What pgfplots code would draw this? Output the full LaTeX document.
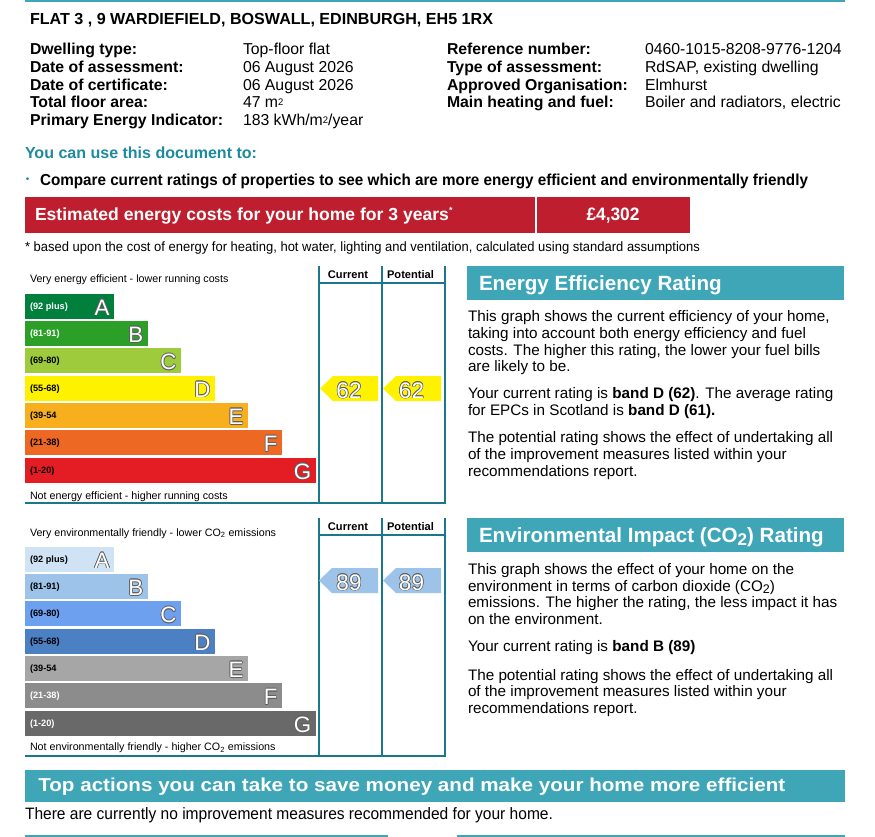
\documentclass[border=0pt]{standalone}
\usepackage{pgfplots}
\pgfplotsset{compat=1.18}
\usepackage{fontspec}
\setmainfont{Liberation Sans}
\usepackage{graphicx}
\definecolor{tealL}{RGB}{63,166,184}
\definecolor{tealD}{RGB}{25,120,140}
\definecolor{tealT}{RGB}{30,138,158}
\definecolor{redbar}{RGB}{190,30,45}
\definecolor{eA}{RGB}{0,127,61}
\definecolor{eB}{RGB}{44,159,41}
\definecolor{eC}{RGB}{157,203,60}
\definecolor{eD}{RGB}{255,242,0}
\definecolor{eE}{RGB}{247,175,29}
\definecolor{eF}{RGB}{237,104,35}
\definecolor{eG}{RGB}{227,29,35}
\definecolor{cA}{RGB}{207,227,245}
\definecolor{cB}{RGB}{157,195,232}
\definecolor{cC}{RGB}{110,160,240}
\definecolor{cD}{RGB}{75,128,195}
\definecolor{cE}{RGB}{166,166,166}
\definecolor{cF}{RGB}{140,140,140}
\definecolor{cG}{RGB}{105,105,105}
\definecolor{olc}{RGB}{95,95,95}
\newcommand\fs[1]{\fontsize{#1}{#1}\selectfont}
\newcommand\fitto[2]{\resizebox{#1pt}{\height}{#2}}
\newcommand\olt[3]{\foreach \dx/\dy in {0.7/0,-0.7/0,0/0.7,0/-0.7,0.5/0.5,-0.5/0.5,0.5/-0.5,-0.5/-0.5}{\node[#1,text=olc,xshift=\dx pt,yshift=\dy pt] at (#2) {#3};}\node[#1,text=white] at (#2) {#3};}
\pgfplotsset{bandaxis/.style={anchor=north west, x=1pt, y=1pt, y dir=reverse, xmin=0, xmax=420, ymin=0, ymax=238, hide axis, clip=false},
  band/.style={xbar, bar shift=0pt, bar width=25, draw=none, fill=#1}}
\begin{document}
\begin{tikzpicture}[x=1pt,y=-1pt,every node/.style={inner sep=0pt,outer sep=0pt}]
\fill[white] (0,0) rectangle (875,837);
% top rule
\fill[tealL] (25,0) rectangle (845,2.5);
\node[anchor=base west,font=\fs{16pt}\bfseries] at (30,24.5) {\fitto{463}{FLAT 3 , 9 WARDIEFIELD, BOSWALL, EDINBURGH, EH5 1RX}};
% details
\begin{scope}[every node/.append style={anchor=base west}]
\node[font=\fs{15.8pt}\bfseries] at (30,55) {Dwelling type:};
\node[font=\fs{15.8pt}\bfseries] at (30,73) {Date of assessment:};
\node[font=\fs{15.8pt}\bfseries] at (30,90.5) {Date of certificate:};
\node[font=\fs{15.8pt}\bfseries] at (30,108) {Total floor area:};
\node[font=\fs{15.8pt}\bfseries] at (30,126) {Primary Energy Indicator:};
\node[font=\fs{15.8pt}] at (243,55) {Top-floor flat};
\node[font=\fs{15.8pt}] at (243,73) {06 August 2026};
\node[font=\fs{15.8pt}] at (243,90.5) {06 August 2026};
\node[font=\fs{15.8pt}] at (243,108) {47 m\raisebox{0.25ex}{\fs{9.5pt}2}};
\node[font=\fs{15.8pt}] at (243,126) {183 kWh/m\raisebox{0.25ex}{\fs{9.5pt}2}/year};
\node[font=\fs{15.8pt}\bfseries] at (447,55) {Reference number:};
\node[font=\fs{15.8pt}\bfseries] at (447,73) {Type of assessment:};
\node[font=\fs{15.8pt}\bfseries] at (447,90.5) {Approved Organisation:};
\node[font=\fs{15.8pt}\bfseries] at (447,108) {Main heating and fuel:};
\node[font=\fs{15.8pt}] at (645,55) {0460-1015-8208-9776-1204};
\node[font=\fs{15.8pt}] at (645,73) {RdSAP, existing dwelling};
\node[font=\fs{15.8pt}] at (645,90.5) {Elmhurst};
\node[font=\fs{15.8pt}] at (645,108) {Boiler and radiators, electric};
% use
\node[font=\fs{16pt}\bfseries,text=tealT] at (25,159) {\fitto{232}{You can use this document to:}};
\node[font=\fs{15.9pt}\bfseries] at (40,185.7) {\fitto{768}{Compare current ratings of properties to see which are more energy efficient and environmentally friendly}};
\end{scope}
\node[font=\fs{10pt},anchor=center,text=tealT] at (27.5,180) {\textbullet};
% red bar
\fill[redbar] (25,197.3) rectangle (690,233.3);
\draw[white,line width=1.2pt] (536,197.3) -- (536,233.3);
\node[anchor=base west,font=\fs{17.5pt}\bfseries,text=white] at (35,220.7) {\fitto{414}{Estimated energy costs for your home for 3 years}\raisebox{7pt}{\fs{9pt}*}};
\node[anchor=base,font=\fs{18pt}\bfseries,text=white] at (613,220.7) {\fitto{53}{£4,302}};
\node[anchor=base west,font=\fs{13.5pt}] at (25,251) {\fitto{675}{* based upon the cost of energy for heating, hot water, lighting and ventilation, calculated using standard assumptions}};
% ---------- energy chart frame ----------
\draw[tealD,line width=2pt] (319,266) -- (319,503) (382,266) -- (382,503) (445,266) -- (445,503) (318,283) -- (446,283) (25,503) -- (446,503);
\node[anchor=base,font=\fs{11.1pt}\bfseries] at (348,278.3) {Current};
\node[anchor=base,font=\fs{11.1pt}\bfseries] at (410.5,278.3) {Potential};
\node[anchor=base west,font=\fs{10.7pt}] at (30,282.7) {Very energy efficient - lower running costs};
\node[anchor=base west,font=\fs{10.7pt}] at (30,499.3) {Not energy efficient - higher running costs};
\begin{axis}[bandaxis, at={(25,265)}]
\addplot[band=eA] coordinates {(89,41)};
\addplot[band=eB] coordinates {(122.7,68.33)};
\addplot[band=eC] coordinates {(156,95.67)};
\addplot[band=eD] coordinates {(190,123)};
\addplot[band=eE] coordinates {(223,150.33)};
\addplot[band=eF] coordinates {(257,177.67)};
\addplot[band=eG] coordinates {(290.7,205)};
\addplot[fill=eD, draw=none, mark=none] coordinates {(295,123.5) (308,111) (353,111) (353,136) (308,136)} -- cycle;
\addplot[fill=eD, draw=none, mark=none] coordinates {(358,123.5) (371,111) (416,111) (416,136) (371,136)} -- cycle;
\end{axis}
\begin{scope}[every node/.append style={anchor=base west,font=\fs{9.2pt}\bfseries}]
\node[text=white] at (30,309.3) {(92 plus)};
\node[text=white] at (30,336.6) {(81-91)};
\node at (30,363.9) {(69-80)};
\node at (30,391.3) {(55-68)};
\node at (30,418.6) {(39-54};
\node at (30,445.9) {(21-38)};
\node at (30,473.3) {(1-20)};
\end{scope}
\olt{anchor=base east,font=\fs{22.3pt}}{109.5,315}{A}
\olt{anchor=base east,font=\fs{22.3pt}}{143.2,342.3}{B}
\olt{anchor=base east,font=\fs{22.3pt}}{176.5,369.6}{C}
\olt{anchor=base east,font=\fs{22.3pt}}{210.5,397}{D}
\olt{anchor=base east,font=\fs{22.3pt}}{243.5,424.3}{E}
\olt{anchor=base east,font=\fs{22.3pt}}{277.5,451.6}{F}
\olt{anchor=base east,font=\fs{22.3pt}}{311.2,479}{G}
\olt{anchor=base,font=\fs{22.5pt}}{349,398}{62}
\olt{anchor=base,font=\fs{22.5pt}}{411.5,398}{62}
% ---------- environmental chart frame ----------
\draw[tealD,line width=2pt] (319,518) -- (319,756) (382,518) -- (382,756) (445,518) -- (445,756) (318,534.5) -- (446,534.5) (25,756) -- (446,756);
\node[anchor=base,font=\fs{11.1pt}\bfseries] at (348,530) {Current};
\node[anchor=base,font=\fs{11.1pt}\bfseries] at (410.5,530) {Potential};
\node[anchor=base west,font=\fs{10.7pt}] at (30,536) {Very environmentally friendly - lower CO\textsubscript{2} emissions};
\node[anchor=base west,font=\fs{10.7pt}] at (30,750.7) {Not environmentally friendly - higher CO\textsubscript{2} emissions};
\begin{axis}[bandaxis, at={(25,518)}]
\addplot[band=cA] coordinates {(89,41)};
\addplot[band=cB] coordinates {(122.7,68.33)};
\addplot[band=cC] coordinates {(156,95.67)};
\addplot[band=cD] coordinates {(190,123)};
\addplot[band=cE] coordinates {(223,150.33)};
\addplot[band=cF] coordinates {(257,177.67)};
\addplot[band=cG] coordinates {(290.7,205)};
\addplot[fill=cB, draw=none, mark=none] coordinates {(294,62.5) (307,50) (353,50) (353,75) (307,75)} -- cycle;
\addplot[fill=cB, draw=none, mark=none] coordinates {(358,62.5) (371,50) (416,50) (416,75) (371,75)} -- cycle;
\end{axis}
\begin{scope}[every node/.append style={anchor=base west,font=\fs{9.2pt}\bfseries}]
\node at (30,562.3) {(92 plus)};
\node at (30,589.6) {(81-91)};
\node at (30,616.9) {(69-80)};
\node at (30,644.3) {(55-68)};
\node at (30,671.6) {(39-54};
\node[text=white] at (30,698.9) {(21-38)};
\node[text=white] at (30,726.3) {(1-20)};
\end{scope}
\olt{anchor=base east,font=\fs{22.3pt}}{109.5,568}{A}
\olt{anchor=base east,font=\fs{22.3pt}}{143.2,595.3}{B}
\olt{anchor=base east,font=\fs{22.3pt}}{176.5,622.6}{C}
\olt{anchor=base east,font=\fs{22.3pt}}{210.5,650}{D}
\olt{anchor=base east,font=\fs{22.3pt}}{243.5,677.3}{E}
\olt{anchor=base east,font=\fs{22.3pt}}{277.5,704.6}{F}
\olt{anchor=base east,font=\fs{22.3pt}}{311.2,732}{G}
\olt{anchor=base,font=\fs{22.5pt}}{349,590}{89}
\olt{anchor=base,font=\fs{22.5pt}}{411.5,590}{89}
% ---------- right texts ----------
\fill[tealL] (467,266) rectangle (844,300);
\node[anchor=base west,font=\fs{20.6pt}\bfseries,text=white] at (479,290) {Energy Efficiency Rating};
\fill[tealL] (467,518) rectangle (844,552);
\node[anchor=base west,font=\fs{20.6pt}\bfseries,text=white] at (479,542.3) {Environmental Impact (CO\raisebox{-0.3ex}{\fs{17pt}2}) Rating};
\begin{scope}[every node/.append style={anchor=base west,font=\fs{15.25pt}}]
\node at (468,321.7) {This graph shows the current efficiency of your home,};
\node at (468,338.3) {taking into account both energy efficiency and fuel};
\node at (468,355) {costs. The higher this rating, the lower your fuel bills};
\node at (468,371.6) {are likely to be.};
\node at (468,398.3) {Your current rating is \textbf{band D (62)}. The average rating};
\node at (468,415) {for EPCs in Scotland is \textbf{band D (61).}};
\node at (468,442.7) {The potential rating shows the effect of undertaking all};
\node at (468,459.3) {of the improvement measures listed within your};
\node at (468,476) {recommendations report.};
\node at (468,574.3) {This graph shows the effect of your home on the};
\node at (468,591) {environment in terms of carbon dioxide (CO\raisebox{-0.3ex}{\fs{12.5pt}2})};
\node at (468,607.6) {emissions. The higher the rating, the less impact it has};
\node at (468,624.2) {on the environment.};
\node at (468,651.7) {Your current rating is \textbf{band B (89)}};
\node at (468,680) {The potential rating shows the effect of undertaking all};
\node at (468,696.6) {of the improvement measures listed within your};
\node at (468,713.3) {recommendations report.};
\end{scope}
% ---------- bottom ----------
\fill[tealL] (25,770) rectangle (845,801.7);
\node[anchor=base west,font=\fs{18.7pt}\bfseries,text=white] at (38.3,791.7) {\fitto{747}{Top actions you can take to save money and make your home more efficient}};
\node[anchor=base west,font=\fs{16.5pt}] at (25,819.3) {\fitto{528}{There are currently no improvement measures recommended for your home.}};
\fill[tealL] (25,834.5) rectangle (388,837);
\fill[tealL] (457,834.5) rectangle (845,837);
\end{tikzpicture}
\end{document}
